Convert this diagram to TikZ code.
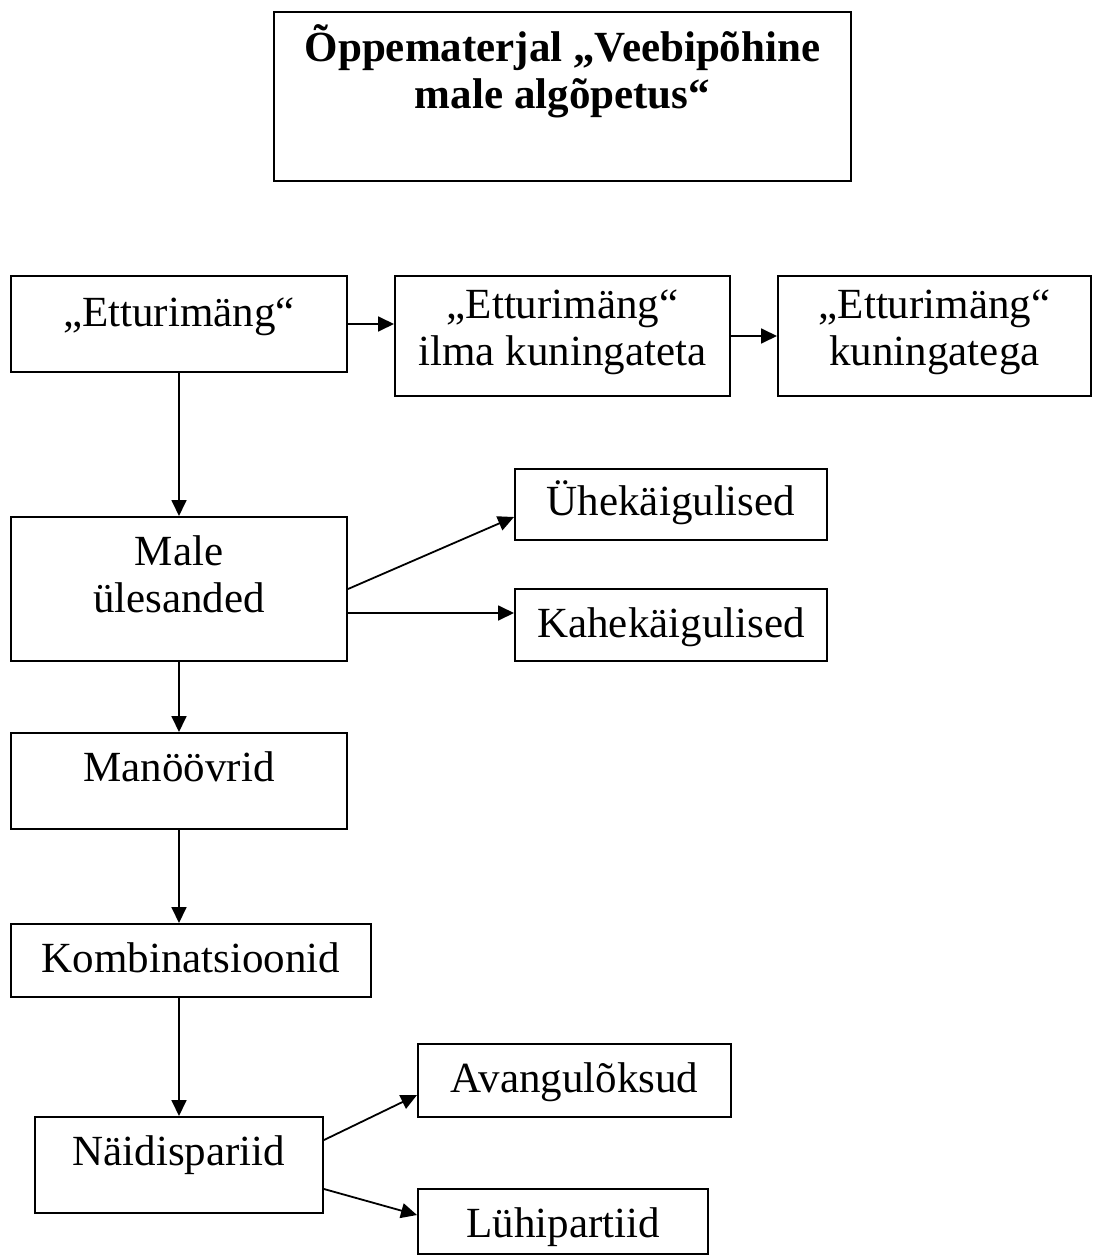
\documentclass[tikz,border=0pt]{standalone}
\usepackage{fontspec}
\setmainfont{Liberation Serif}
\usetikzlibrary{arrows.meta,calc}

\begin{document}
\begin{tikzpicture}[x=0.5pt, y=-0.5pt,
  box/.style={draw, line width=1pt, inner sep=0pt, align=center,
    font=\fontsize{21.5}{23.5}\selectfont},
  arr/.style={-{Triangle[length=8pt,width=7.5pt]}, line width=0.9pt}]
  \useasboundingbox (0,0) rectangle (1102,1257);

  % title box
  \node[box, font=\fontsize{21.5}{23.5}\selectfont\bfseries, minimum width=288.5pt,
    text height=48.5pt, text depth=36pt] (title) at (562.5,96.5)
    {Õppematerjal „Veebipõhine\\male algõpetus“};

  % first row
  \node[box, minimum width=168pt, text height=25pt, text depth=23pt] (ett) at (179,324) {„Etturimäng“};
  \node[box, minimum width=167.5pt, text height=44.5pt, text depth=15.5pt] (ettilma) at (562.5,336) {„Etturimäng“\\ilma kuningateta};
  \node[box, minimum width=156.5pt, text height=44.5pt, text depth=15.5pt] (ettkun) at (934.5,336) {„Etturimäng“\\kuningatega};

  % chess problems
  \node[box, minimum width=168pt, text height=47.5pt, text depth=24.5pt] (male) at (179,589) {Male\\ülesanded};
  \node[box, minimum width=156pt, text height=23pt, text depth=12.5pt] (yhe) at (671,504.5) {Ühekäigulised};
  \node[box, minimum width=156pt, text height=24pt, text depth=12pt] (kahe) at (671,625) {Kahekäigulised};

  % left column
  \node[box, minimum width=168pt, text height=24pt, text depth=24pt] (man) at (179,781) {Manöövrid};
  \node[box, minimum width=180pt, text height=24pt, text depth=12.5pt] (komb) at (191,960.5) {Kombinatsioonid};
  \node[box, minimum width=144pt, text height=24pt, text depth=24pt] (naid) at (179,1165) {Näidispariid};

  % games
  \node[box, minimum width=156.5pt, text height=24pt, text depth=12.5pt] (avang) at (574.5,1080.5) {Avangulõksud};
  \node[box, minimum width=145pt, text height=24pt, text depth=8.5pt] (lyhi) at (563,1221.5) {Lühipartiid};

  % arrow ends
  \coordinate (yhein) at ($(yhe.west)+(0,12.5)$);
  \coordinate (kahein) at ($(kahe.west)+(0,-12)$);
  \coordinate (avangin) at ($(avang.west)+(0,14.5)$);
  \coordinate (lyhiin) at ($(lyhi.west)+(0,-6.5)$);

  % connectors
  \draw[arr] (ett.east) -- (ett.east -| ettilma.west);
  \draw[arr] (ettilma.east) -- (ettilma.east -| ettkun.west);
  \draw[arr] (ett.south) -- (male.north);
  \draw[arr] (male.east) -- (yhein);
  \draw[arr] (male.east |- kahein) -- (kahein);
  \draw[arr] (male.south) -- (man.north);
  \draw[arr] (man.south) -- (man.south |- komb.north);
  \draw[arr] (naid.north |- komb.south) -- (naid.north);
  \draw[arr] ($(naid.east)+(0,-25)$) -- (avangin);
  \draw[arr] ($(naid.east)+(0,24)$) -- (lyhiin);
\end{tikzpicture}
\end{document}
